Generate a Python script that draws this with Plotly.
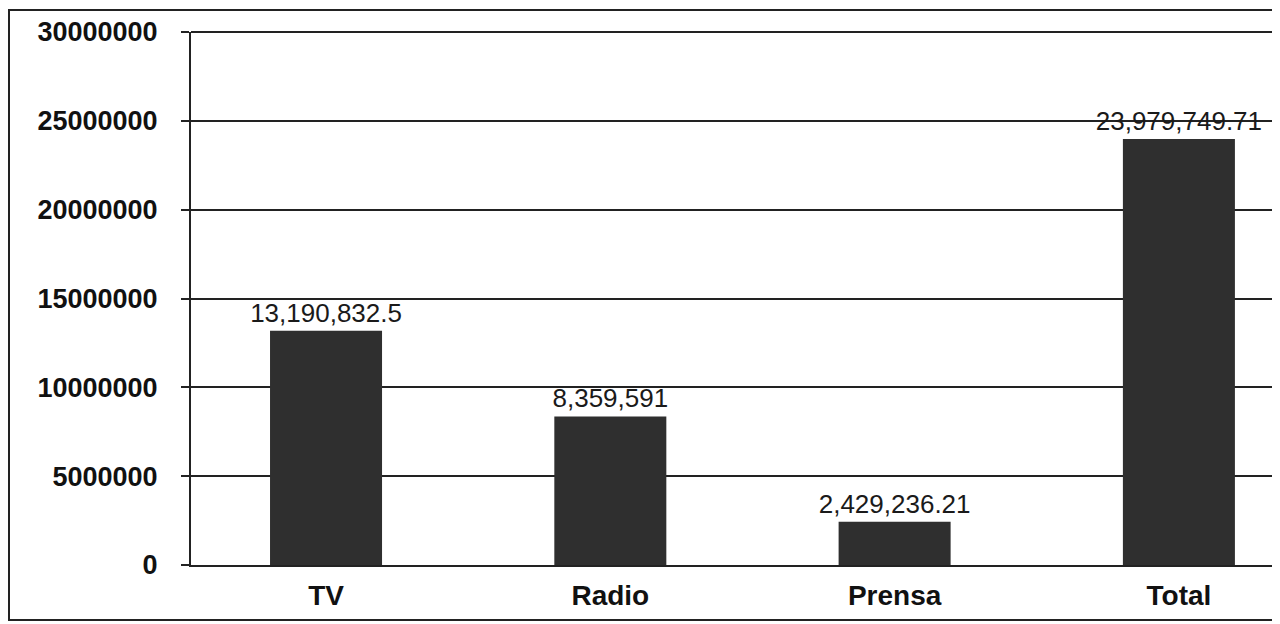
import plotly.graph_objects as go

categories = ["TV", "Radio", "Prensa", "Total"]
values = [13190832.5, 8359591, 2429236.21, 23979749.71]
labels = [f"{v:,}" for v in values]
tick_vals = [0, 5000000, 10000000, 15000000, 20000000, 25000000, 30000000]
tick_text = [str(v) for v in tick_vals]

# page is offset by the browser's 8px body margin
OFF = 8
W, H = 1280 - OFF, 624 - OFF
L, R, T, B = 191 - OFF, 5, 32 - OFF, 59
pw, ph = W - L - R, H - T - B

fig = go.Figure()
fig.add_trace(go.Bar(
    x=list(range(len(categories))), y=values,
    width=0.394,
    marker=dict(color="#2f2f2f", line=dict(width=0)),
    text=labels, textposition="outside", cliponaxis=False, constraintext="none",
    textfont=dict(family="Liberation Sans, Arial, sans-serif", size=26, color="#1a1a1a"),
))

fig.update_layout(
    width=W, height=H,
    margin=dict(l=L, r=R, t=T, b=B),
    paper_bgcolor="white", plot_bgcolor="white",
    showlegend=False,
    xaxis=dict(
        tickmode="array", tickvals=list(range(len(categories))), ticktext=categories,
        range=[-0.475, 3.338], showgrid=False, zeroline=False,
        showline=True, linecolor="#222", linewidth=2, ticks="",
        tickfont=dict(family="Liberation Sans, Arial, sans-serif", size=28, color="#111", weight="bold"),
        ticklabelstandoff=4, automargin=False,
    ),
    yaxis=dict(
        range=[0, 30000000], tickmode="array", tickvals=tick_vals, ticktext=tick_text,
        showgrid=True, gridcolor="#222", gridwidth=1.6, zeroline=False,
        showline=True, linecolor="#222", linewidth=2,
        ticks="outside", ticklen=8, tickcolor="#222", tickwidth=1.5,
        tickfont=dict(family="Liberation Sans, Arial, sans-serif", size=27, color="#111", weight="bold"),
        ticklabelstandoff=18, automargin=False,
    ),
    shapes=[
        dict(type="line", xref="paper", yref="paper", x0=1, x1=1, y0=0, y1=1,
             line=dict(color="#222", width=2)),
        dict(type="line", xref="paper", yref="paper", x0=0, x1=1, y0=1, y1=1,
             line=dict(color="#222", width=2)),
        dict(type="rect", xref="paper", yref="paper",
             x0=(9 - 191) / pw, x1=(1278 - 191) / pw,
             y0=-(620 - 565) / ph, y1=(565 - 10) / ph,
             line=dict(color="#222", width=2), fillcolor="rgba(0,0,0,0)", layer="below"),
    ],
)

fig.write_html("out.html")
